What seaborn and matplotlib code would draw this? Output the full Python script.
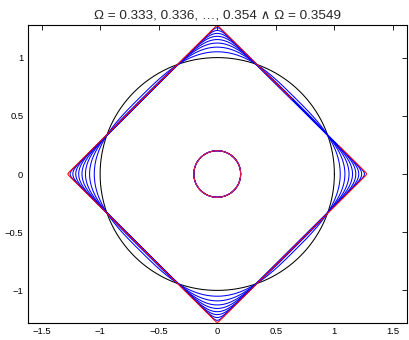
import numpy as np
import pandas as pd
import matplotlib
matplotlib.use("Agg")
import matplotlib.pyplot as plt
import seaborn as sns

# ---- data ----
omega_blue = [0.333, 0.336, 0.339, 0.342, 0.345, 0.348, 0.351, 0.354]
omega_red = 0.3549
# outer boundary: tip radius on the axes and corner sharpness (exponent) of each curve
tip_blue = [1.05, 1.09, 1.125, 1.155, 1.183, 1.208, 1.233, 1.257]
exp_blue = [3.05, 4.1, 5.4, 7.0, 9.0, 12.5, 20.0, 45.0]
tip_red = 1.275
exp_red = 150.0
circle_radius = 1.0
inner_radius = 0.2
xticks = [-1.5, -1, -0.5, 0, 0.5, 1, 1.5]
yticks = [-1, -0.5, 0, 0.5, 1]

sns.set_style("white")
plt.rcParams["font.family"] = ["Liberation Sans", "DejaVu Sans"]

t = np.linspace(0, 2 * np.pi, 20001)


def rounded_diamond(R, n):
    # superellipse |u|^n + |v|^n = s^n in a frame rotated by 45 degrees
    s = R * 2.0 ** (1.0 / n) / np.sqrt(2.0)
    c, sn = np.cos(t), np.sin(t)
    u = s * np.sign(c) * np.abs(c) ** (2.0 / n)
    v = s * np.sign(sn) * np.abs(sn) ** (2.0 / n)
    return pd.DataFrame({"x": (u - v) / np.sqrt(2.0), "y": (u + v) / np.sqrt(2.0)})


def circle(r):
    return pd.DataFrame({"x": r * np.cos(t), "y": r * np.sin(t)})


fig = plt.figure(figsize=(4.09, 3.40), dpi=100)
ax = fig.add_axes([27.5 / 409, 1 - 323 / 340, (407 - 27.5) / 409, (323 - 25) / 340])

lw = 0.75
# black reference circle
sns.lineplot(data=circle(circle_radius), x="x", y="y", sort=False,
             estimator=None, color="black", lw=lw, ax=ax)
# blue family
for R, n in zip(tip_blue, exp_blue):
    sns.lineplot(data=rounded_diamond(R, n), x="x", y="y", sort=False,
                 estimator=None, color="blue", lw=lw, ax=ax)
    sns.lineplot(data=circle(inner_radius), x="x", y="y", sort=False,
                 estimator=None, color="blue", lw=0.6, ax=ax)
# red final curve
sns.lineplot(data=rounded_diamond(tip_red, exp_red), x="x", y="y", sort=False,
             estimator=None, color="red", lw=lw, ax=ax)
sns.lineplot(data=circle(inner_radius), x="x", y="y", sort=False,
             estimator=None, color="#d81e50", lw=0.95, ax=ax)

ax.set_xlim(-1.62, 1.62)
ax.set_ylim(-1.28, 1.28)
ax.set_xticks(xticks)
ax.set_yticks(yticks)
ax.set_xticklabels(["\u22121.5", "\u22121", "\u22120.5", "0", "0.5", "1", "1.5"])
ax.set_yticklabels(["\u22121", "\u22120.5", "0", "0.5", "1"])
ax.set_xlabel("")
ax.set_ylabel("")
ax.tick_params(direction="in", top=True, right=True, length=3.5, width=0.6,
               labelsize=6.8, colors="black", pad=3)
for sp in ax.spines.values():
    sp.set_visible(True)
    sp.set_color("black")
    sp.set_linewidth(0.8)

title = ("\u03a9 = " + f"{omega_blue[0]:.3f}, {omega_blue[1]:.3f}, \u2026, {omega_blue[-1]:.3f}"
         + " \u2227 \u03a9 = " + f"{omega_red:.4f}")
ax.set_title(title, fontsize=9.7, pad=5)

fig.savefig("out.png", dpi=100)
